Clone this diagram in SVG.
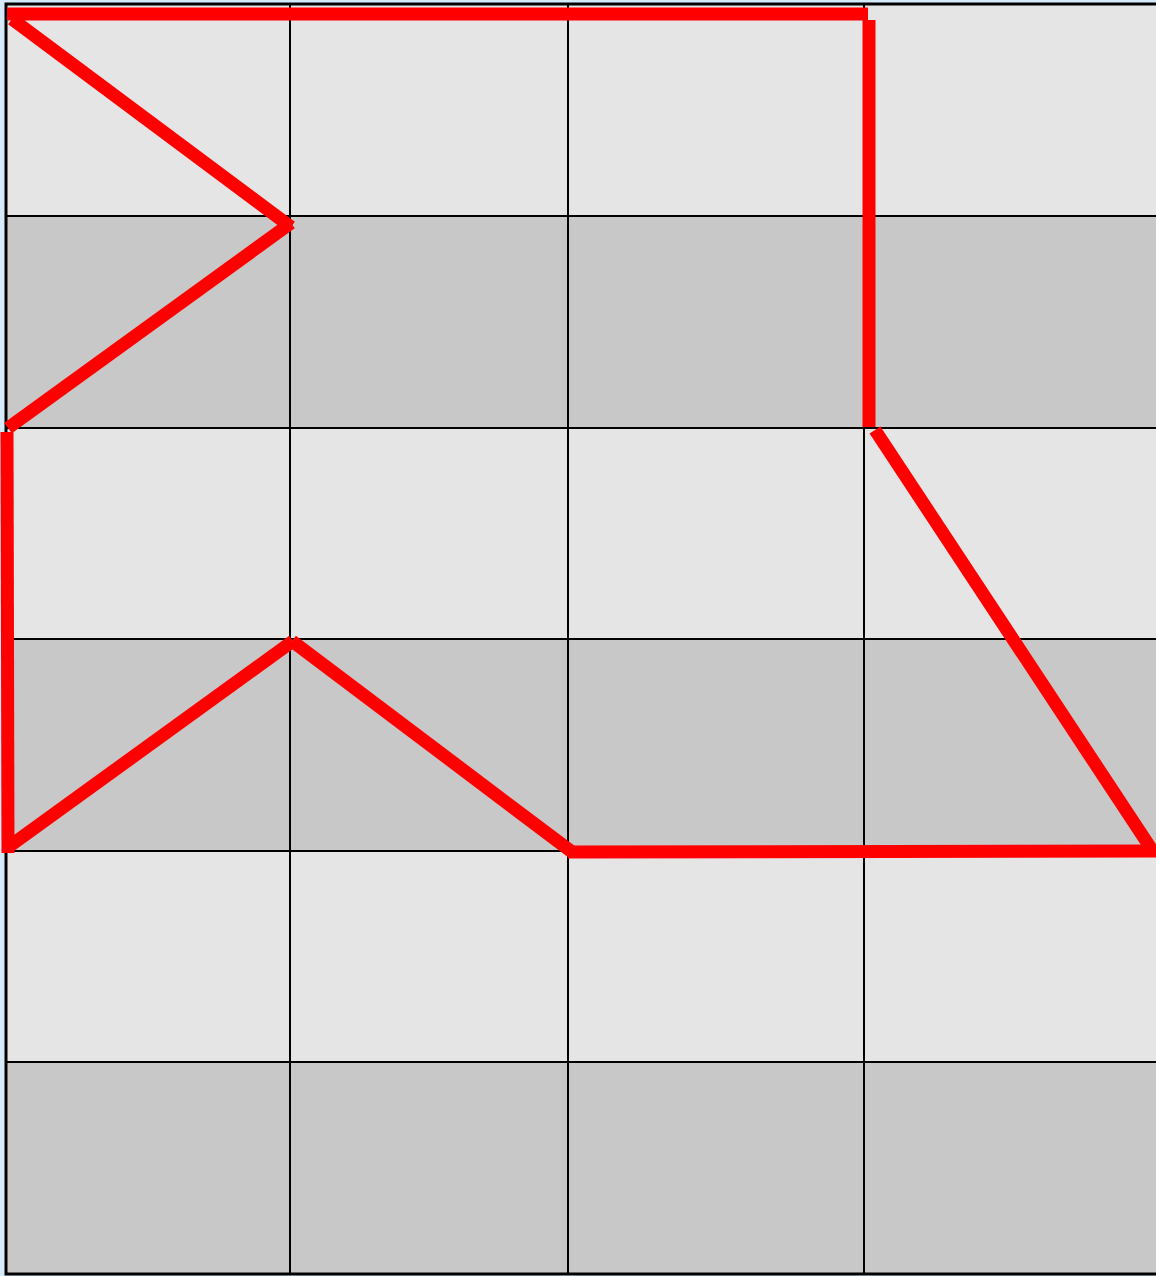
<svg xmlns="http://www.w3.org/2000/svg" width="1156" height="1276" viewBox="0 0 1156 1276">
<style>
.light{fill:#e5e5e5}
.dark{fill:#c8c8c8}
.grid{stroke:#000;stroke-width:2;fill:none}
.red{stroke:#ff0000;stroke-width:13;fill:none;stroke-linecap:butt}
</style>
<rect x="0" y="0" width="1156" height="1276" fill="#d6ebfa"/>
<g id="cells">
<rect class="light" x="6" y="4" width="1160" height="212"/>
<rect class="dark" x="6" y="216" width="1160" height="212"/>
<rect class="light" x="6" y="428" width="1160" height="211"/>
<rect class="dark" x="6" y="639" width="1160" height="212"/>
<rect class="light" x="6" y="851" width="1160" height="211"/>
<rect class="dark" x="6" y="1062" width="1160" height="212"/>
</g>
<g id="grid" class="grid">
<rect x="6" y="4" width="1160" height="1270" stroke-width="3"/>
<line x1="290" y1="4" x2="290" y2="1274"/>
<line x1="568" y1="4" x2="568" y2="1274"/>
<line x1="864" y1="4" x2="864" y2="1274"/>
<line x1="6" y1="216" x2="1156" y2="216"/>
<line x1="6" y1="428" x2="1156" y2="428"/>
<line x1="6" y1="639" x2="1156" y2="639"/>
<line x1="6" y1="851" x2="1156" y2="851"/>
<line x1="6" y1="1062" x2="1156" y2="1062"/>
</g>
<g id="connectors" class="red">
<line x1="7" y1="14" x2="868" y2="14"/>
<line x1="869" y1="20" x2="869" y2="427"/>
<line x1="875" y1="430" x2="1152" y2="850"/>
<line x1="568" y1="852" x2="1156" y2="851"/>
<line x1="292" y1="641" x2="572" y2="852"/>
<line x1="7" y1="848" x2="293" y2="641"/>
<line x1="7" y1="432" x2="8" y2="853"/>
<line x1="8" y1="428" x2="291" y2="223"/>
<line x1="12" y1="19" x2="291" y2="227"/>
</g>
</svg>
